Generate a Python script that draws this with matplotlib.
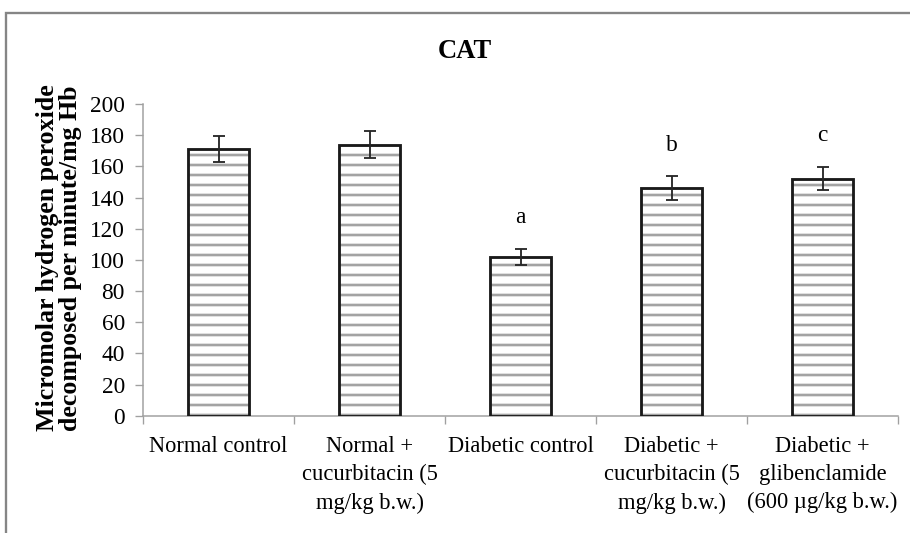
import matplotlib
matplotlib.use("Agg")
import matplotlib.pyplot as plt
from matplotlib.patches import Rectangle
from matplotlib.ticker import FixedLocator, NullFormatter

# Catalase activity per treatment group
categories = [
    "Normal control",
    "Normal +\ncucurbitacin (5\nmg/kg b.w.)",
    "Diabetic control",
    "Diabetic +\ncucurbitacin (5\nmg/kg b.w.)",
    "Diabetic +\nglibenclamide\n(600 \u00b5g/kg b.w.)",
]
cat_values = [171, 174, 102, 146, 152]
cat_errors = [8.5, 8.5, 5, 7.5, 7.5]
sig_letters = ["", "", "a", "b", "c"]
y_ticks = [0, 20, 40, 60, 80, 100, 120, 140, 160, 180, 200]

DPI = 120
W, H = 910, 533
plt.rcParams["font.family"] = ["Liberation Serif", "DejaVu Serif"]
plt.rcParams["hatch.linewidth"] = 1.6

fig = plt.figure(figsize=(W / DPI, H / DPI), dpi=DPI)

# outer chart frame (runs past the right and bottom edges)
fig.patches.append(Rectangle((6 / W, -0.1), 1.2, (H - 13) / H + 0.1,
                             transform=fig.transFigure, fill=False,
                             edgecolor="#858585", linewidth=1.4))

ax = fig.add_axes([143 / W, (H - 415.7) / H, 755 / W, 311.7 / H])

x = list(range(len(categories)))
# hatched fill
ax.bar(x, cat_values, width=0.4, color="white", edgecolor="#a3a3a3",
       hatch="--", linewidth=0, zorder=2)
# dark outline
ax.bar(x, cat_values, width=0.4, fill=False, edgecolor="#1a1a1a",
       linewidth=1.7, zorder=3)
ax.errorbar(x, cat_values, yerr=cat_errors, fmt="none", ecolor="#262626",
            elinewidth=1.1, capsize=3.5, capthick=1.1, zorder=4)

for xi, v, e, s in zip(x, cat_values, cat_errors, sig_letters):
    if s:
        ax.text(xi, v + e + 20, s, ha="center", va="center", fontsize=14)

ax.set_xlim(-0.5, len(categories) - 0.5)
ax.set_ylim(0, 200)
ax.set_yticks(y_ticks)
ax.set_xticks(x)
ax.set_xticklabels(categories, fontsize=13.5, linespacing=1.45)
ax.xaxis.set_minor_locator(FixedLocator([i - 0.5 for i in range(len(categories) + 1)]))
ax.xaxis.set_minor_formatter(NullFormatter())
ax.tick_params(axis="x", which="major", length=0, pad=12)
ax.tick_params(axis="x", which="minor", length=4.8, width=0.8, color="#a0a0a0",
               direction="out")
ax.tick_params(axis="y", length=4.8, width=0.8, color="#a0a0a0", pad=6,
               labelsize=14, direction="out")

for side in ("top", "right"):
    ax.spines[side].set_visible(False)
for side in ("left", "bottom"):
    ax.spines[side].set_color("#a0a0a0")
    ax.spines[side].set_linewidth(0.9)

fig.text(465 / W, 1 - 52 / H, "CAT", ha="center", va="center",
         fontsize=16, fontweight="bold")
fig.text(59 / W, 1 - 258 / H,
         "Micromolar hydrogen peroxide\ndecomposed per minute/mg Hb",
         rotation=90, ha="center", va="center", multialignment="center",
         fontsize=15.5, fontweight="bold", linespacing=1.0)

fig.savefig("out.png", dpi=DPI)
